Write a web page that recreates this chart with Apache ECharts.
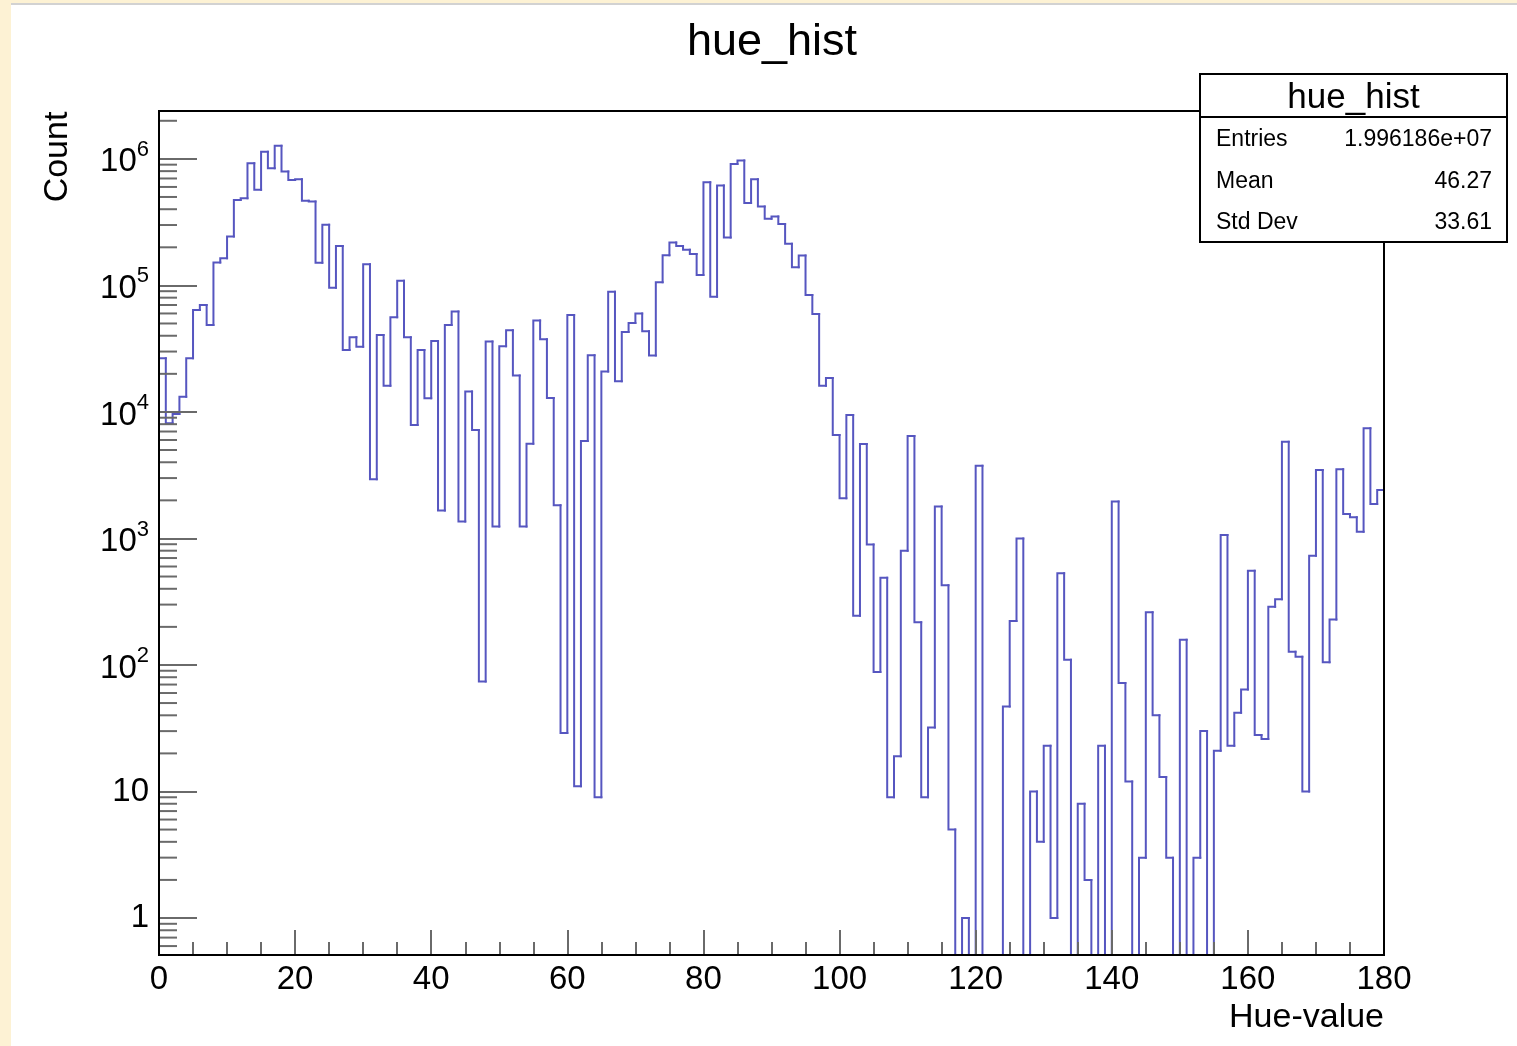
<!DOCTYPE html>
<html>
<head>
<meta charset="utf-8">
<script src="https://cdn.jsdelivr.net/npm/echarts@6/dist/echarts.min.js"></script>
<style>
html,body{margin:0;padding:0;background:#fdf2d4;width:1517px;height:1046px;overflow:hidden;}
#topline{position:absolute;left:11px;top:3px;width:1506px;height:2px;background:#d2d2d2;}
#chart{position:absolute;left:11px;top:5px;width:1506px;height:1041px;background:#ffffff;}
</style>
</head>
<body>
<div id="topline"></div>
<div id="chart"></div>
<script>
// ---- data (counts per 1-unit hue bin, 0..179) ----
const binCounts = [
  26600, 8150, 9640, 13200, 26600, 64000, 70100, 48700, 152000, 164000,
  243000, 474000, 489000, 925000, 569000, 1140000, 844000, 1270000, 793000, 682000,
  690000, 466000, 460000, 151000, 301000, 96000, 205000, 30900, 38900, 32800,
  147000, 2940, 40600, 16100, 56000, 109000, 38900, 7890, 30900, 12800,
  36400, 1660, 48700, 62100, 1360, 14500, 7200, 74, 36000, 1240,
  33000, 44200, 19400, 1240, 5600, 52700, 37600, 12900, 1830, 29,
  58400, 11, 5890, 28000, 9, 20900, 89100, 17500, 42800, 50400,
  60000, 43400, 27900, 106000, 173000, 218000, 205000, 191000, 177000, 121000,
  654000, 81500, 615000, 239000, 912000, 970000, 447000, 690000, 420000, 336000,
  350000, 306000, 213000, 139000, 172000, 84100, 59500, 16100, 18500, 6580,
  2080, 9440, 245, 5580, 896, 88, 489, 9, 19, 798,
  6440, 218, 9, 32, 1790, 427, 5, 0, 1, 0,
  3760, 0, 0, 0, 47, 223, 997, 0, 10, 4,
  23, 1, 530, 110, 0, 8, 2, 0, 23, 0,
  1955, 72, 12, 0, 3, 261, 40, 13, 3, 0,
  158, 0, 3, 30, 0, 21, 1066, 23, 42, 64,
  556, 28, 26, 289, 330, 5820, 127, 116, 10, 731,
  3480, 105, 229, 3520, 1560, 1470, 1130, 7430, 1870, 2420
];
const xRange = [0, 180];
const xTickStep = 20;
const yRange = [0.51, 2.39e6];
const yTickExponents = [0, 1, 2, 3, 4, 5, 6];
const yTickLabels = ['1', '10', '10^2', '10^3', '10^4', '10^5', '10^6'];
const yMinorTicks = [
  0.6, 0.7, 0.8, 0.9,
  2, 3, 4, 5, 6, 7, 8, 9,
  20, 30, 40, 50, 60, 70, 80, 90,
  200, 300, 400, 500, 600, 700, 800, 900,
  2000, 3000, 4000, 5000, 6000, 7000, 8000, 9000,
  20000, 30000, 40000, 50000, 60000, 70000, 80000, 90000,
  200000, 300000, 400000, 500000, 600000, 700000, 800000, 900000,
  2000000
];
const chartTitle = 'hue_hist';
const xAxisTitle = 'Hue-value';
const yAxisTitle = 'Count';
const statsTitle = 'hue_hist';
const statsNames = ['Entries', 'Mean', 'Std Dev'];
const statsValues = ['1.996186e+07', '46.27', '33.61'];

// ---- rendering ----
const FONT = '"Liberation Sans", Arial, Helvetica, sans-serif';
const LINE = '#5656c0';
const TICK = '#6a6a6a';

const chart = echarts.init(document.getElementById('chart'), null, {renderer: 'canvas'});

const histData = binCounts.map((v, i) => [i, v, i === 0 ? 0 : binCounts[i - 1]]);

function yLabel(v) {
  const e = Math.log10(v);
  const r = Math.round(e);
  if (Math.abs(e - r) > 1e-6) return '';
  const idx = yTickExponents.indexOf(r);
  if (idx < 0) return '';
  const lab = yTickLabels[idx];
  const parts = lab.split('^');
  if (parts.length === 1) return '{p|' + lab + '}';
  return '{b|' + parts[0] + '}{s|' + parts[1] + '}';
}

const gridRect = {left: 148, top: 106, width: 1225, height: 844};
const statsBox = {x: 1189, y: 69, w: 307, h: 168, sep: 43};
const SZ = 40;

const statsChildren = [
  {type: 'rect', z: SZ, shape: {x: 0, y: 0, width: statsBox.w, height: statsBox.h},
   style: {fill: '#ffffff', stroke: '#000000', lineWidth: 2}},
  {type: 'line', z: SZ, shape: {x1: 0, y1: statsBox.sep, x2: statsBox.w, y2: statsBox.sep},
   style: {stroke: '#000000', lineWidth: 2}},
  {type: 'text', z: SZ, x: statsBox.w / 2, y: 24,
   style: {text: statsTitle, font: '35px ' + FONT, fill: '#000', textAlign: 'center', textVerticalAlign: 'middle'}}
];
statsNames.forEach((n, i) => {
  const cy = 66 + i * 41.5;
  statsChildren.push({type: 'text', z: SZ, x: 16, y: cy,
    style: {text: n, font: '23px ' + FONT, fill: '#000', textAlign: 'left', textVerticalAlign: 'middle'}});
  statsChildren.push({type: 'text', z: SZ, x: statsBox.w - 15, y: cy,
    style: {text: statsValues[i], font: '23px ' + FONT, fill: '#000', textAlign: 'right', textVerticalAlign: 'middle'}});
});

chart.setOption({
  animation: false,
  backgroundColor: '#ffffff',
  title: {
    text: chartTitle, left: 756, top: 10, textAlign: 'center',
    textStyle: {fontSize: 45, fontWeight: 'normal', fontFamily: FONT, color: '#000'}
  },
  grid: {
    left: gridRect.left, top: gridRect.top, width: gridRect.width, height: gridRect.height,
    show: true, borderColor: '#000', borderWidth: 2, backgroundColor: 'transparent', z: 10
  },
  xAxis: {
    type: 'value', min: xRange[0], max: xRange[1], interval: xTickStep, z: 8,
    axisLine: {show: false},
    splitLine: {show: false},
    axisTick: {show: true, inside: true, length: 25, lineStyle: {color: TICK, width: 2}},
    minorTick: {show: true, splitNumber: 4, length: 13, lineStyle: {color: TICK, width: 2}},
    axisLabel: {fontSize: 33, color: '#000', fontFamily: FONT, margin: 8, showMinLabel: true, showMaxLabel: true},
    name: xAxisTitle, nameLocation: 'end', nameGap: 0,
    nameTextStyle: {fontSize: 34, fontFamily: FONT, color: '#000', align: 'right', verticalAlign: 'top', padding: [46, 0, 0, 0]}
  },
  yAxis: {
    type: 'log', logBase: 10, min: yRange[0], max: yRange[1], z: 8,
    axisLine: {show: false},
    splitLine: {show: false},
    axisTick: {show: true, inside: true, length: 38, lineStyle: {color: TICK, width: 2}},
    minorTick: {show: false},
    axisLabel: {
      formatter: yLabel, margin: 10, color: '#000', fontFamily: FONT, fontSize: 33,
      rich: {
        p: {fontSize: 33, fontFamily: FONT, color: '#000'},
        b: {fontSize: 33, fontFamily: FONT, color: '#000', lineHeight: 40, verticalAlign: 'bottom'},
        s: {fontSize: 22, fontFamily: FONT, color: '#000', lineHeight: 22, verticalAlign: 'top'}
      }
    }
  },
  series: [
    {
      type: 'custom', name: 'hue_hist', coordinateSystem: 'cartesian2d', z: 2,
      encode: {x: 0, y: 1},
      data: histData,
      clip: true,
      renderItem: function (params, api) {
        const k = api.value(0), v = api.value(1), p = api.value(2);
        const yv = Math.max(v, yRange[0]);
        const yp = Math.max(p, yRange[0]);
        const a = api.coord([k, yp]);
        const b = api.coord([k, yv]);
        const c = api.coord([k + 1, yv]);
        return {type: 'polyline', shape: {points: [a, b, c]},
          style: {stroke: LINE, lineWidth: 2, fill: null, lineCap: 'square', lineJoin: 'miter'}};
      }
    },
    {
      type: 'custom', name: 'yMinorTicks', coordinateSystem: 'cartesian2d', z: 5,
      encode: {x: 0, y: 1}, silent: true,
      data: yMinorTicks.map(v => [xRange[0], v]),
      renderItem: function (params, api) {
        const pt = api.coord([xRange[0], api.value(1)]);
        return {type: 'line', shape: {x1: pt[0], y1: pt[1], x2: pt[0] + 18, y2: pt[1]},
          style: {stroke: TICK, lineWidth: 2}};
      }
    }
  ],
  graphic: [
    {type: 'text', x: 47, y: 152, rotation: Math.PI / 2, z: 20,
     style: {text: yAxisTitle, font: '34px ' + FONT, fill: '#000', textAlign: 'center', textVerticalAlign: 'middle'}},
    {type: 'group', x: statsBox.x, y: statsBox.y, z: SZ, children: statsChildren}
  ]
});
</script>
</body>
</html>
